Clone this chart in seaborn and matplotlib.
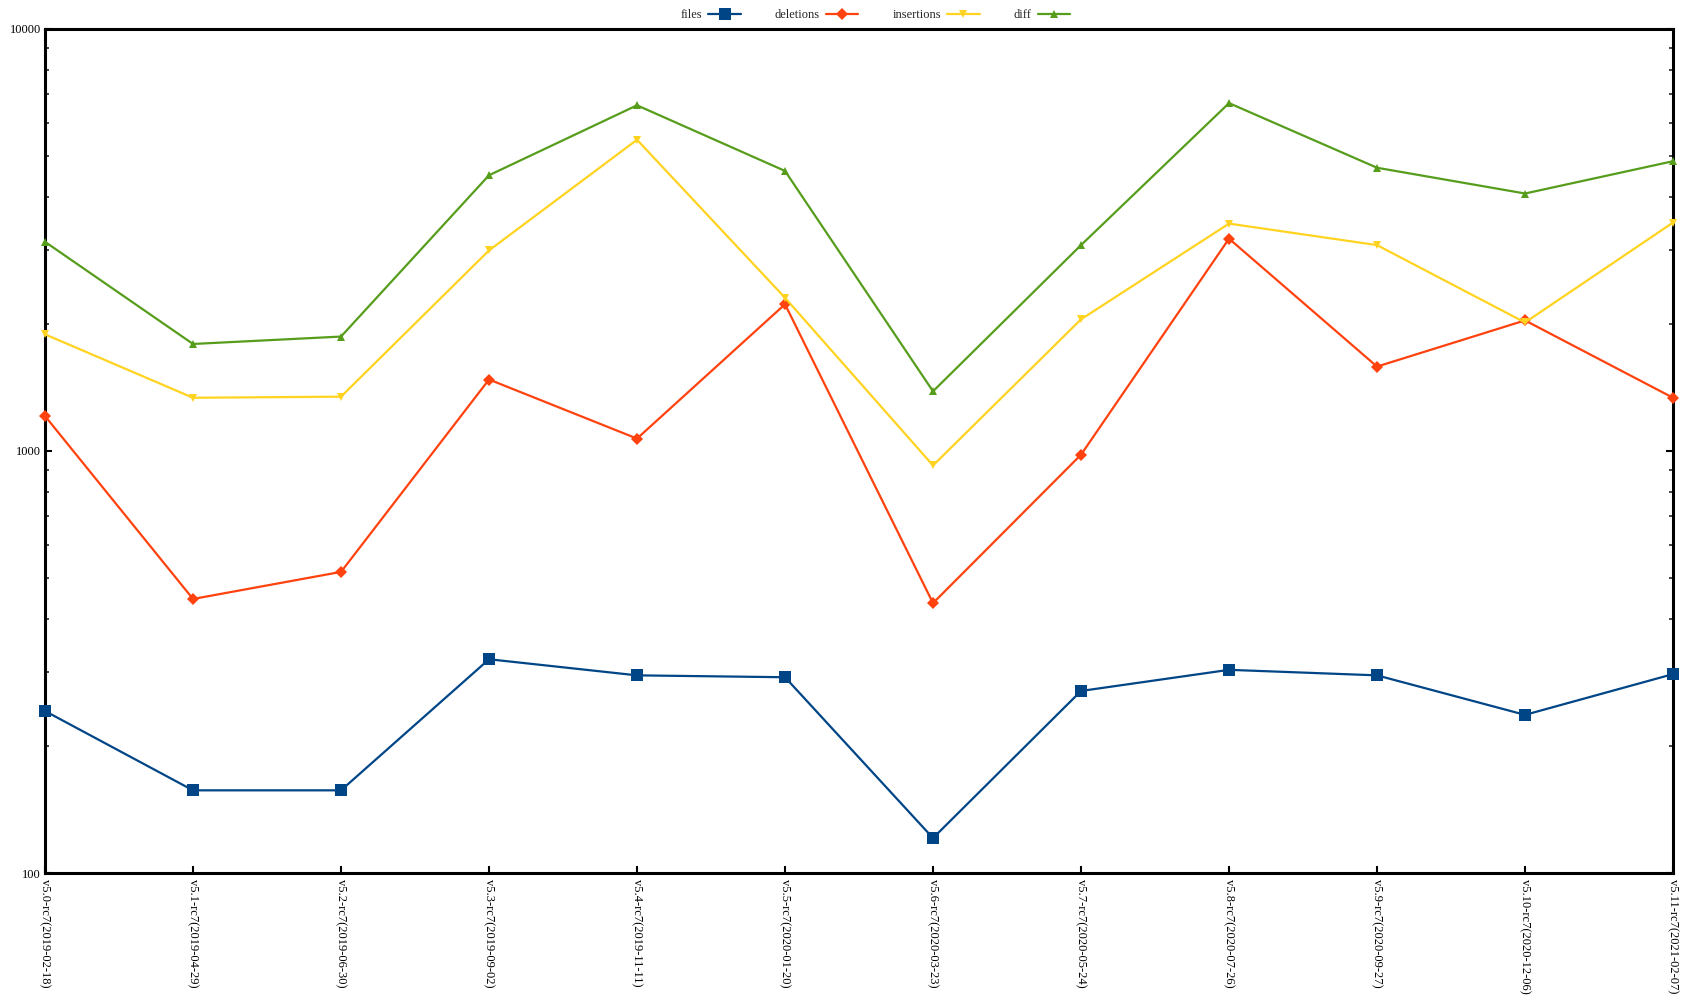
import matplotlib
matplotlib.use("Agg")
import matplotlib.pyplot as plt
import seaborn as sns
import pandas as pd
import numpy as np
from matplotlib.ticker import LogLocator, NullFormatter

versions = ["v5.0-rc7(2019-02-18)", "v5.1-rc7(2019-04-29)", "v5.2-rc7(2019-06-30)",
            "v5.3-rc7(2019-09-02)", "v5.4-rc7(2019-11-11)", "v5.5-rc7(2020-01-20)",
            "v5.6-rc7(2020-03-23)", "v5.7-rc7(2020-05-24)", "v5.8-rc7(2020-07-26)",
            "v5.9-rc7(2020-09-27)", "v5.10-rc7(2020-12-06)", "v5.11-rc7(2021-02-07)"]
files = [242, 157, 157, 321, 294, 291, 121, 270, 303, 294, 237, 296]
deletions = [1210, 446, 517, 1477, 1070, 2227, 436, 980, 3185, 1585, 2039, 1337]
insertions = [1890, 1337, 1345, 2987, 5464, 2307, 924, 2051, 3458, 3075, 2016, 3478]
diff = [3131, 1793, 1867, 4502, 6594, 4609, 1385, 3075, 6673, 4690, 4075, 4860]

series_names = ["files", "deletions", "insertions", "diff"]
series_vals = [files, deletions, insertions, diff]
colors = {"files": "#004586", "deletions": "#ff420e", "insertions": "#ffd320", "diff": "#579d1c"}
markers = {"files": "s", "deletions": "D", "insertions": "v", "diff": "^"}
msizes = {"files": 8, "deletions": 6, "insertions": 6, "diff": 6}

rows = []
for name, vals in zip(series_names, series_vals):
    for i, v in enumerate(vals):
        rows.append({"x": i, "value": v, "series": name})
df = pd.DataFrame(rows)

sns.set_style("ticks")
plt.rcParams["font.family"] = ["Liberation Serif", "DejaVu Serif"]
plt.rcParams["font.size"] = 9

fig = plt.figure(figsize=(16.86, 10.06), dpi=100)
ax = fig.add_axes([0.0267, 0.1322, 0.9656, 0.839])

for name in series_names:
    sub = df[df.series == name]
    sns.lineplot(data=sub, x="x", y="value", ax=ax, color=colors[name],
                 marker=markers[name], markersize=msizes[name], markeredgewidth=0,
                 linewidth=1.6, label=name, clip_on=False, zorder=3)

ax.set_yscale("log")
ax.set_ylim(100, 10000)
ax.set_xlim(0, len(versions) - 1)
ax.set_xticks(range(len(versions)))
ax.set_xticklabels(versions, rotation=-90, va="top", ha="center")
ax.set_yticks([100, 1000, 10000])
ax.set_yticklabels(["100", "1000", "10000"])
ax.yaxis.set_minor_locator(LogLocator(base=10, subs=np.arange(2, 10)))
ax.yaxis.set_minor_formatter(NullFormatter())
ax.set_xlabel("")
ax.set_ylabel("")

for s in ax.spines.values():
    s.set_linewidth(2.2)
    s.set_color("black")
    s.set_visible(True)
ax.tick_params(axis="both", which="major", direction="in", length=5, width=1.5,
               labelsize=9, colors="black", pad=3)
ax.tick_params(axis="y", which="both", right=True, direction="in")
ax.tick_params(axis="y", which="minor", length=3, width=1.2)
ax.tick_params(axis="x", which="major", top=False, pad=4)

leg = ax.legend(loc="lower center", bbox_to_anchor=(0.51, 1.0), ncol=4, frameon=False,
                markerfirst=False, fontsize=9, columnspacing=2.7, handlelength=2.6,
                borderaxespad=0.2, handletextpad=0.5)

fig.savefig("out.png", dpi=100)
